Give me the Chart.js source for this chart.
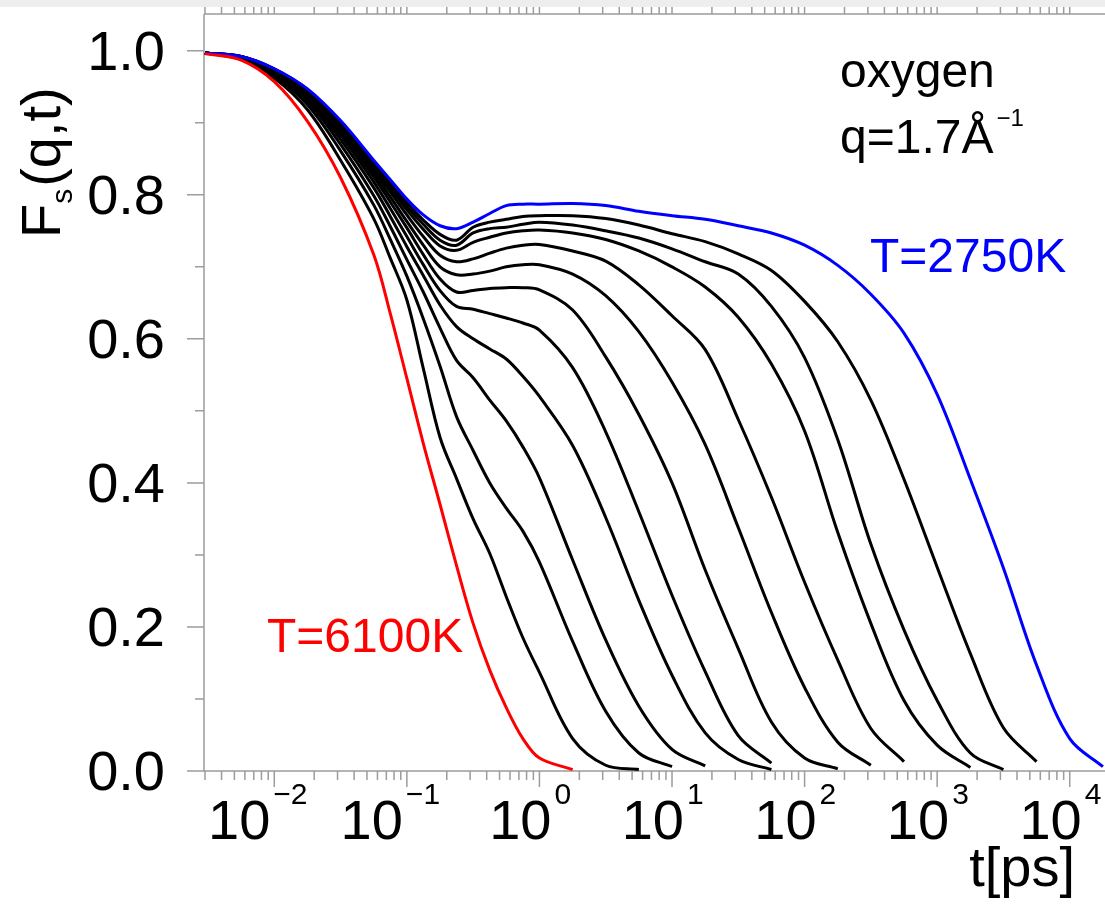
<!DOCTYPE html>
<html>
<head>
<meta charset="utf-8">
<title>Fs(q,t) oxygen</title>
<script src="https://cdn.jsdelivr.net/npm/chart.js@4.4.1/dist/chart.umd.min.js"></script>
<style>
  html, body { margin: 0; padding: 0; background: #fff; }
  #wrap { width: 1105px; height: 904px; }
</style>
</head>
<body>
<div id="wrap"><canvas id="fsqt" width="1105" height="904"></canvas></div>
<script>
// time grid in ps
const times = [0.003, 0.00562, 0.01, 0.0178, 0.0316, 0.0562, 0.075, 0.1, 0.133, 0.178, 0.237, 0.316,
  0.422, 0.562, 0.75, 1, 1.78, 3.16, 5.62, 10, 17.8, 31.6, 56.2, 100, 178, 316, 562, 1000,
  1780, 3160, 5620, 10000, 17800]

// F_s(q,t), hottest (red) to coldest (blue)
const fsT6100 = [0.996, 0.987, 0.957, 0.902, 0.824, 0.717, 0.635, 0.545, 0.455, 0.370, 0.285, 0.205, 0.140, 0.088, 0.045, 0.018, 0.002]
const fs01 = [0.997, 0.988, 0.962, 0.918, 0.848, 0.767, 0.712, 0.654, 0.559, 0.463, 0.406, 0.350, 0.302, 0.242, 0.185, 0.137, 0.045, 0.008, 0.002]
const fs02 = [0.997, 0.989, 0.965, 0.925, 0.861, 0.786, 0.738, 0.687, 0.628, 0.562, 0.492, 0.445, 0.400, 0.365, 0.333, 0.290, 0.180, 0.083, 0.025, 0.006]
const fs03 = [0.997, 0.990, 0.967, 0.930, 0.870, 0.799, 0.756, 0.710, 0.665, 0.615, 0.570, 0.546, 0.515, 0.486, 0.450, 0.407, 0.293, 0.182, 0.090, 0.030, 0.007]
const fs04 = [0.997, 0.990, 0.969, 0.933, 0.877, 0.810, 0.770, 0.728, 0.688, 0.647, 0.617, 0.600, 0.586, 0.572, 0.548, 0.520, 0.452, 0.352, 0.237, 0.133, 0.053, 0.016, 0.002]
const fs05 = [0.997, 0.990, 0.970, 0.936, 0.883, 0.818, 0.781, 0.742, 0.703, 0.667, 0.645, 0.641, 0.635, 0.629, 0.622, 0.612, 0.560, 0.471, 0.360, 0.244, 0.138, 0.049, 0.011]
const fs06 = [0.997, 0.991, 0.971, 0.939, 0.887, 0.825, 0.790, 0.754, 0.717, 0.683, 0.665, 0.667, 0.670, 0.671, 0.671, 0.668, 0.640, 0.575, 0.495, 0.400, 0.279, 0.170, 0.068, 0.018, 0.003]
const fs07 = [0.997, 0.991, 0.972, 0.941, 0.891, 0.830, 0.797, 0.763, 0.730, 0.700, 0.689, 0.690, 0.694, 0.700, 0.703, 0.703, 0.690, 0.660, 0.610, 0.540, 0.453, 0.338, 0.220, 0.116, 0.040, 0.008]
const fs08 = [0.997, 0.991, 0.973, 0.942, 0.894, 0.835, 0.804, 0.772, 0.742, 0.716, 0.707, 0.711, 0.719, 0.726, 0.730, 0.731, 0.722, 0.708, 0.675, 0.632, 0.585, 0.488, 0.380, 0.262, 0.154, 0.059, 0.013]
const fs09 = [0.997, 0.992, 0.974, 0.944, 0.897, 0.839, 0.809, 0.779, 0.752, 0.729, 0.723, 0.734, 0.741, 0.747, 0.750, 0.751, 0.747, 0.738, 0.722, 0.700, 0.672, 0.630, 0.565, 0.472, 0.331, 0.205, 0.098, 0.036, 0.005]
const fs10 = [0.997, 0.992, 0.974, 0.945, 0.899, 0.842, 0.813, 0.784, 0.759, 0.737, 0.730, 0.747, 0.753, 0.755, 0.759, 0.762, 0.758, 0.750, 0.740, 0.725, 0.707, 0.690, 0.645, 0.574, 0.460, 0.315, 0.196, 0.098, 0.025, 0.002]
const fs11 = [0.997, 0.992, 0.975, 0.946, 0.901, 0.845, 0.817, 0.789, 0.765, 0.745, 0.737, 0.755, 0.762, 0.766, 0.770, 0.771, 0.771, 0.767, 0.758, 0.746, 0.735, 0.718, 0.695, 0.652, 0.596, 0.515, 0.405, 0.283, 0.163, 0.060, 0.013]
const fsT2750 = [0.997, 0.992, 0.975, 0.947, 0.903, 0.848, 0.821, 0.794, 0.772, 0.757, 0.753, 0.762, 0.774, 0.785, 0.787, 0.787, 0.788, 0.785, 0.777, 0.771, 0.766, 0.757, 0.747, 0.730, 0.702, 0.662, 0.608, 0.523, 0.405, 0.282, 0.147, 0.045, 0.006]

const blackCurves = [fs01, fs02, fs03, fs04, fs05, fs06, fs07, fs08, fs09, fs10, fs11]

// axis ticks
const yTickValues = [0, 0.2, 0.4, 0.6, 0.8, 1.0]
const xDecades = [-2, -1, 0, 1, 2, 3, 4]

const FONT = '"Liberation Sans", Arial, Helvetica, sans-serif'
const AXIS_GRAY = '#9c9c9c'

function toPoints(values) {
    return values.map((v, i) => ({x: times[i], y: v}))
}

function lineSet(values, color, order) {
    return {
        data: toPoints(values),
        borderColor: color,
        borderWidth: 3,
        pointRadius: 0,
        fill: false,
        tension: 0.35,
        order: order
    }
}

const datasets = [
    lineSet(fsT6100, '#ff0000', 0),
    lineSet(fsT2750, '#0000ff', 0)
]
for (let c of blackCurves) {
    datasets.push(lineSet(c, '#000000', 1))
}

const framePlugin = {
    id: 'frame',
    beforeDraw(chart) {
        const ctx = chart.ctx
        ctx.save()
        ctx.fillStyle = '#ffffff'
        ctx.fillRect(0, 0, chart.width, chart.height)
        ctx.fillStyle = '#eeeeee'
        ctx.fillRect(0, 0, chart.width, 7)
        ctx.restore()
    },
    beforeDatasetsDraw(chart) {
        const {ctx, chartArea: a, scales: {x, y}} = chart
        ctx.save()
        ctx.strokeStyle = AXIS_GRAY
        ctx.lineWidth = 1.5
        ctx.beginPath()
        ctx.moveTo(a.left, a.top)
        ctx.lineTo(a.left, a.bottom)
        ctx.moveTo(a.left, a.top)
        ctx.lineTo(a.right, a.top)
        ctx.moveTo(a.left - 17, a.bottom)
        ctx.lineTo(a.right, a.bottom)
        // y ticks, every 0.1, long ones on labelled values
        for (let k = 0; k <= 10; k++) {
            const py = y.getPixelForValue(k / 10)
            const len = k % 2 === 0 ? 17 : 9
            ctx.moveTo(a.left - len, py)
            ctx.lineTo(a.left, py)
        }
        // x ticks, log minor ticks
        for (let d = -3; d <= 4; d++) {
            for (let m = 1; m <= 9; m++) {
                const t = m * Math.pow(10, d)
                if (t < x.min || t > x.max) continue
                const px = x.getPixelForValue(t)
                ctx.moveTo(px, a.bottom)
                ctx.lineTo(px, a.bottom + (m === 1 ? 16 : 9))
                ctx.moveTo(px, a.top)
                ctx.lineTo(px, a.top - 7)
            }
        }
        ctx.stroke()
        ctx.restore()
    },
    afterDraw(chart) {
        const {ctx, chartArea: a, scales: {x, y}} = chart
        ctx.save()
        ctx.fillStyle = '#000'
        ctx.textBaseline = 'alphabetic'

        // y tick labels
        ctx.font = '56px ' + FONT
        ctx.textAlign = 'right'
        for (let v of yTickValues) {
            ctx.fillText(v.toFixed(1), 165, y.getPixelForValue(v) + 19)
        }

        // x tick labels 10^n
        for (let e of xDecades) {
            const px = x.getPixelForValue(Math.pow(10, e))
            const right = px + 12 - (e < 0 ? 16 : 0)
            ctx.font = '56px ' + FONT
            ctx.textAlign = 'right'
            ctx.fillText('10', right, a.bottom + 68)
            ctx.font = '30px ' + FONT
            ctx.textAlign = 'left'
            ctx.fillText(e < 0 ? '\u2212' + (-e) : String(e), right + 3, a.bottom + 33)
        }

        // x title
        ctx.font = '56px ' + FONT
        ctx.textAlign = 'right'
        ctx.fillText('t[ps]', 1075, 886)

        // y title F_s(q,t), rotated
        ctx.save()
        ctx.translate(60, 238)
        ctx.rotate(-Math.PI / 2)
        ctx.textAlign = 'left'
        ctx.font = '56px ' + FONT
        ctx.fillText('F', 0, 0)
        const wF = ctx.measureText('F').width
        ctx.font = '30px ' + FONT
        ctx.fillText('s', wF, 12)
        const ws = ctx.measureText('s').width
        ctx.font = '56px ' + FONT
        ctx.fillText('(q,t)', wF + ws + 2, 0)
        ctx.restore()

        // annotations
        ctx.textAlign = 'left'
        ctx.font = '48px ' + FONT
        ctx.fillText('oxygen', 840, 87)
        ctx.fillText('q=1.7\u00C5', 840, 153)
        const wq = ctx.measureText('q=1.7\u00C5').width
        ctx.font = '24px ' + FONT
        ctx.fillText('\u22121', 840 + wq + 3, 126)

        ctx.font = '48px ' + FONT
        ctx.fillStyle = '#0000ff'
        ctx.fillText('T=2750K', 870, 272)
        ctx.fillStyle = '#ff0000'
        ctx.fillText('T=6100K', 267, 652)
        ctx.restore()
    }
}

const chart = new Chart(document.getElementById('fsqt'), {
    type: 'line',
    data: {datasets: datasets},
    options: {
        responsive: false,
        devicePixelRatio: 1,
        animation: false,
        layout: {padding: {left: 204, top: 14, right: 0, bottom: 133}},
        plugins: {legend: {display: false}, tooltip: {enabled: false}},
        scales: {
            x: {type: 'logarithmic', min: 0.00295, max: 18450, display: false},
            y: {type: 'linear', min: 0, max: 1.051, display: false}
        }
    },
    plugins: [framePlugin]
})
</script>
</body>
</html>
